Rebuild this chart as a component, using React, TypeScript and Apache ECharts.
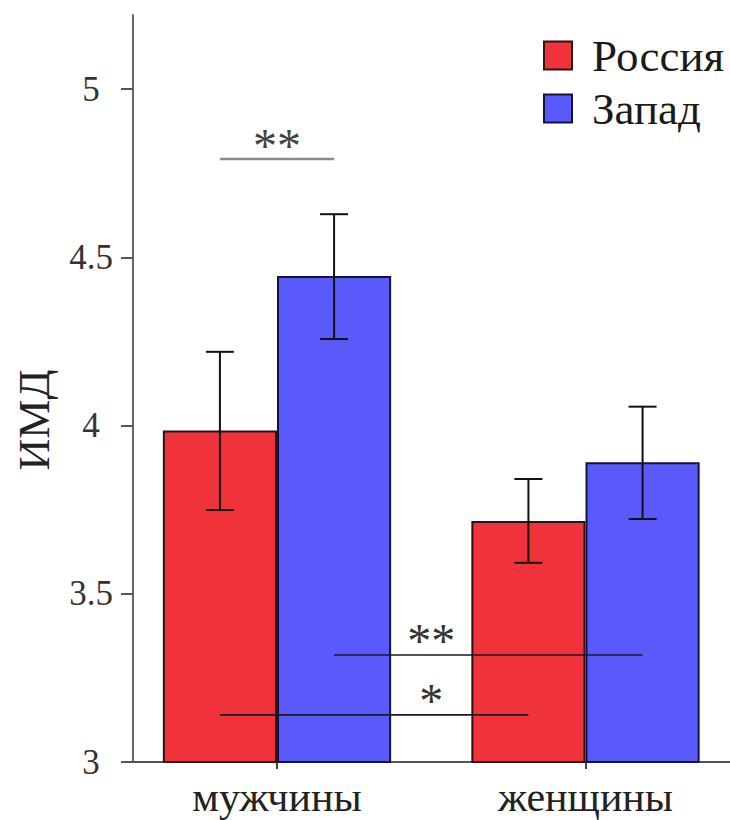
import React, { useEffect, useRef } from "react";
import * as echarts from "echarts";

const categories = ["мужчины", "женщины"];
const seriesNames = ["Россия", "Запад"];
const russiaMeans = [3.985, 3.716];
const westMeans = [4.444, 3.891];
// [category index, low, high]
const russiaErr = [
  [0, 3.749, 4.219],
  [1, 3.592, 3.841],
];
const westErr = [
  [0, 4.257, 4.628],
  [1, 3.722, 4.056],
];
const yTicks = [3, 3.5, 4, 4.5, 5];
const yName = "ИМД";

// significance brackets: from (category, series) to (category, series), at value y
const sigFrom = [
  [0, 0],
  [0, 1],
  [0, 0],
];
const sigTo = [
  [0, 1],
  [1, 1],
  [1, 0],
];
const sigY = [4.792, 3.318, 3.14];
const sigLabel = ["**", "**", "*"];
const sigLabelAt = [0, 0.5, 0.5]; // in category units
const sigLineColors = ["#8a8a8a", "#1a1a2a", "#1a1a2a"];
const sigLineWidths = [2.5, 1.6, 1.6];
const sigTextColors = ["#444", "#333", "#333"];

const RED = "#f0323a";
const BLUE = "#5a5afa";
const SERIF = "'Liberation Serif', 'DejaVu Serif', serif";
const BAR_CAT_GAP = 0.26;
const HALF_OFFSET = (1 - BAR_CAT_GAP) / 4; // bar center offset in band units

export default function App() {
  const ref = useRef<HTMLDivElement>(null);

  useEffect(() => {
    if (!ref.current) return;
    const chart = echarts.init(ref.current, null, { renderer: "svg" });

    const errRender = (sIdx: number) => (params: any, api: any) => {
      const cat = api.value(0);
      const lo = api.coord([cat, api.value(1)]);
      const hi = api.coord([cat, api.value(2)]);
      const bw = api.size([1, 0])[0];
      const x = lo[0] + (sIdx === 0 ? -1 : 1) * bw * HALF_OFFSET;
      const cap = 14;
      const style = { stroke: "#111", lineWidth: 2 };
      return {
        type: "group",
        children: [
          { type: "line", shape: { x1: x, y1: lo[1], x2: x, y2: hi[1] }, style },
          { type: "line", shape: { x1: x - cap, y1: lo[1], x2: x + cap, y2: lo[1] }, style },
          { type: "line", shape: { x1: x - cap, y1: hi[1], x2: x + cap, y2: hi[1] }, style },
        ],
      };
    };

    const sigData = sigY.map((y, i) => [sigFrom[i][0], sigFrom[i][1], sigTo[i][0], sigTo[i][1], y, sigLabelAt[i]]);

    const sigRender = (params: any, api: any) => {
      const i = params.dataIndex;
      const y = api.value(4);
      const bw = api.size([1, 0])[0];
      const xOf = (cat: number, s: number) =>
        api.coord([cat, y])[0] + (s === 0 ? -1 : 1) * bw * HALF_OFFSET;
      const x1 = xOf(api.value(0), api.value(1));
      const x2 = xOf(api.value(2), api.value(3));
      const py = api.coord([0, y])[1];
      const lx = api.coord([0, y])[0] + api.value(5) * bw;
      return {
        type: "group",
        children: [
          {
            type: "line",
            shape: { x1, y1: py, x2, y2: py },
            style: { stroke: sigLineColors[i], lineWidth: sigLineWidths[i] },
          },
          {
            type: "text",
            x: lx,
            y: py - 14,
            style: {
              text: sigLabel[i],
              fill: sigTextColors[i],
              font: `48px ${SERIF}`,
              textAlign: "center",
              textVerticalAlign: "middle",
            },
          },
        ],
      };
    };

    chart.setOption({
      animation: false,
      backgroundColor: "#fff",
      grid: {
        left: 122.75,
        width: 617,
        top: 15,
        bottom: 58,
        containLabel: false,
        outerBoundsMode: "none",
      },
      legend: {
        data: seriesNames,
        left: 543,
        top: 33,
        padding: 0,
        orient: "vertical",
        icon: "rect",
        itemWidth: 28,
        itemHeight: 28,
        itemGap: 8,
        textStyle: {
          fontFamily: SERIF,
          fontSize: 45,
          lineHeight: 43,
          color: "#1a1a1a",
          padding: [0, 0, 0, 15],
        },
      },
      xAxis: {
        type: "category",
        data: categories,
        axisLine: { show: true, lineStyle: { color: "#555", width: 2 } },
        axisTick: { show: true, alignWithLabel: true, length: 7, lineStyle: { color: "#444", width: 2 } },
        axisLabel: { fontFamily: SERIF, fontSize: 42, color: "#222", margin: 14 },
        splitLine: { show: false },
      },
      yAxis: {
        type: "value",
        min: 3,
        max: 5.22,
        offset: -10.25,
        axisLine: { show: true, lineStyle: { color: "#666", width: 2 } },
        axisTick: { show: true, length: 12, customValues: yTicks, lineStyle: { color: "#555", width: 2 } },
        axisLabel: {
          customValues: yTicks,
          fontFamily: SERIF,
          fontSize: 35,
          color: "#333",
          align: "center",
          margin: 42,
        },
        splitLine: { show: false },
      },
      graphic: [
        {
          type: "text",
          x: 34,
          y: 420,
          rotation: Math.PI / 2,
          style: {
            text: yName,
            font: `44px ${SERIF}`,
            fill: "#222",
            textAlign: "center",
            textVerticalAlign: "middle",
          },
        },
      ],
      series: [
        {
          name: seriesNames[0],
          type: "bar",
          data: russiaMeans,
          barGap: "0%",
          barCategoryGap: "26%",
          itemStyle: { color: RED, borderColor: "#2a1414", borderWidth: 2 },
        },
        {
          name: seriesNames[1],
          type: "bar",
          data: westMeans,
          barGap: "0%",
          barCategoryGap: "26%",
          itemStyle: { color: BLUE, borderColor: "#14143a", borderWidth: 2 },
        },
        {
          type: "custom",
          renderItem: errRender(0),
          data: russiaErr,
          encode: { x: 0, y: [1, 2] },
          z: 5,
          silent: true,
        },
        {
          type: "custom",
          renderItem: errRender(1),
          data: westErr,
          encode: { x: 0, y: [1, 2] },
          z: 5,
          silent: true,
        },
        {
          type: "custom",
          renderItem: sigRender,
          data: sigData,
          encode: { x: 0, y: 4 },
          z: 6,
          silent: true,
        },
      ],
    });

    return () => chart.dispose();
  }, []);

  return (
    <div
      ref={ref}
      style={{ position: "fixed", left: 0, top: 0, width: 730, height: 820, background: "#fff" }}
    />
  );
}
